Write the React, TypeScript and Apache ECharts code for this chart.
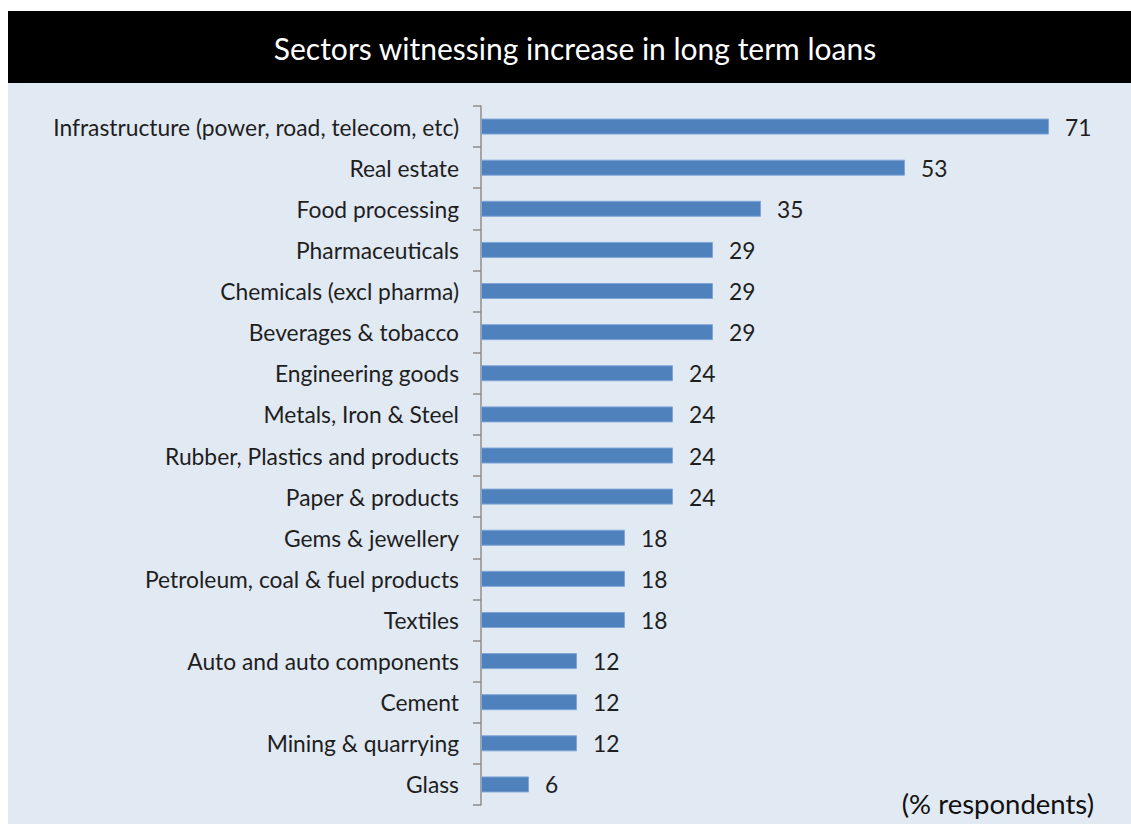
import React, { useEffect, useRef } from "react";
import * as echarts from "echarts";

// Sectors and share of respondents (%) reporting higher long term loans
const sectors: string[] = [
  "Infrastructure (power, road, telecom, etc)",
  "Real estate",
  "Food processing",
  "Pharmaceuticals",
  "Chemicals (excl pharma)",
  "Beverages & tobacco",
  "Engineering goods",
  "Metals, Iron & Steel",
  "Rubber, Plastics and products",
  "Paper & products",
  "Gems & jewellery",
  "Petroleum, coal & fuel products",
  "Textiles",
  "Auto and auto components",
  "Cement",
  "Mining & quarrying",
  "Glass",
];
const respondents: number[] = [71, 53, 35, 29, 29, 29, 24, 24, 24, 24, 18, 18, 18, 12, 12, 12, 6];

const titleText = "Sectors witnessing increase in long term loans";
const unitNote = "(% respondents)";

const FONT = "Lato, 'Open Sans', sans-serif";

export default function App() {
  const ref = useRef<HTMLDivElement>(null);

  useEffect(() => {
    if (!ref.current) return;
    const chart = echarts.init(ref.current, undefined, { renderer: "svg" });
    chart.setOption({
      animation: false,
      backgroundColor: "#ffffff",
      graphic: [
        {
          type: "rect",
          z: -10,
          shape: { x: 8, y: 83, width: 1123, height: 741 },
          style: { fill: "#e1e9f3" },
          silent: true,
        },
        {
          type: "rect",
          z: -10,
          shape: { x: 8, y: 11, width: 1123, height: 72 },
          style: { fill: "#000000" },
          silent: true,
        },
        {
          type: "text",
          x: 575,
          y: 48,
          style: {
            text: titleText,
            fill: "#ffffff",
            font: `30px ${FONT}`,
            align: "center",
            verticalAlign: "middle",
          },
        },
        {
          type: "text",
          x: 1094,
          y: 803,
          style: {
            text: unitNote,
            fill: "#111111",
            font: `27.5px ${FONT}`,
            align: "right",
            verticalAlign: "middle",
          },
        },
      ],
      grid: { left: 481, width: 640, top: 106, height: 699 },
      xAxis: {
        type: "value",
        min: 0,
        max: 80,
        show: false,
      },
      yAxis: {
        type: "category",
        data: sectors,
        inverse: true,
        axisLine: { show: true, lineStyle: { color: "#8c8c8c", width: 1.5 } },
        axisTick: { show: true, length: 8, lineStyle: { color: "#8c8c8c", width: 1.5 } },
        axisLabel: {
          margin: 22,
          color: "#1e1e1e",
          fontFamily: FONT,
          fontSize: 22.8,
        },
        splitLine: { show: false },
      },
      series: [
        {
          type: "bar",
          data: respondents,
          barWidth: 16,
          itemStyle: { color: "#4f81bd", borderColor: "#7fa6d6", borderWidth: 1 },
          label: {
            show: true,
            position: "right",
            distance: 16,
            color: "#1e1e1e",
            fontFamily: FONT,
            fontSize: 22.8,
          },
        },
      ],
    });
    return () => chart.dispose();
  }, []);

  return (
    <div
      ref={ref}
      style={{ position: "fixed", left: 0, top: 0, width: 1131, height: 824 }}
    />
  );
}
